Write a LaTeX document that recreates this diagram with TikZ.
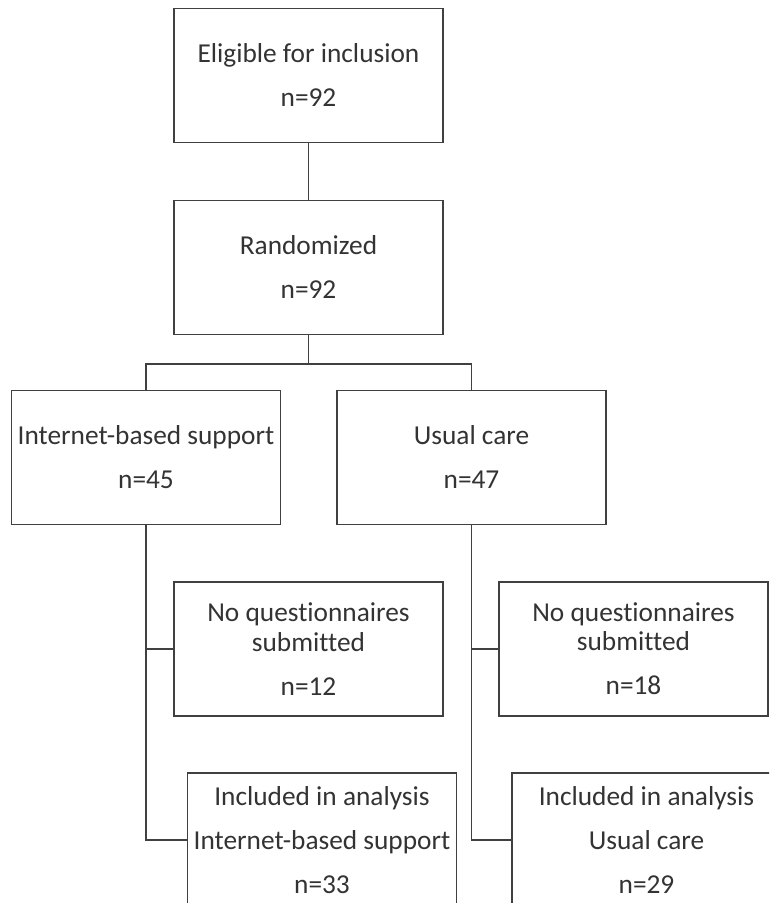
\documentclass[tikz,border=0pt]{standalone}
\usepackage{fontspec}
\setmainfont{Carlito}[Ligatures=NoCommon]
\definecolor{linegray}{HTML}{404040}
\definecolor{textgray}{HTML}{333333}
\newcommand{\gapline}{\\[11pt]}
\begin{document}
\begin{tikzpicture}[x=0.75pt, y=-0.75pt,
    flowbox/.style={draw=linegray, line width=1pt, minimum width=201.75pt, minimum height=100.5pt,
        inner sep=0pt, align=center, text=textgray,
        font=\fontsize{20.5}{22}\selectfont},
    link/.style={draw=linegray, line width=1pt}]

    \useasboundingbox (0,0) rectangle (769,903);
    \clip (0,0) rectangle (769,903);

    \node [flowbox] (elig) at (308.5, 75.5)  {Eligible for inclusion\gapline n=92};
    \node [flowbox] (rand) at (308.5, 267.5) {Randomized\gapline n=92};
    \node [flowbox] (inet) at (146, 457.5)   {Internet-based support\gapline n=45};
    \node [flowbox] (care) at (471.5, 457.5) {Usual care\gapline n=47};
    \node [flowbox] (noqa) at (308.5, 649)   {No questionnaires\\submitted\gapline n=12};
    \node [flowbox] (noqb) at (633.5, 649)   {No questionnaires\\submitted\gapline n=18};
    \node [flowbox] (inca) at (322, 840)     {Included in analysis\gapline Internet-based support\gapline n=33};
    \node [flowbox] (incb) at (646.5, 840)   {Included in analysis\gapline Usual care\gapline n=29};

    \coordinate (split) at (308.5, 364);

    \draw [link] (elig.south) -- (rand.north);
    \draw [link] (rand.south) -- (split);
    \draw [link] (inet.north) |- (split) -| (care.north);
    \draw [link] (inet.south) |- (inca.west);
    \draw [link] (inet.south |- noqa.west) -- (noqa.west);
    \draw [link] (care.south) |- (incb.west);
    \draw [link] (care.south |- noqb.west) -- (noqb.west);
\end{tikzpicture}
\end{document}
